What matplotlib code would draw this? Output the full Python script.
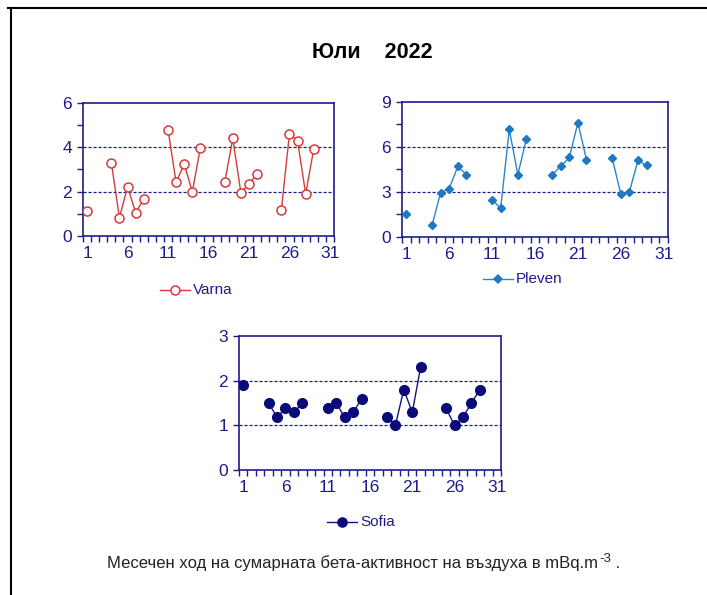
import numpy as np
import matplotlib
matplotlib.use("Agg")
import matplotlib.pyplot as plt
from matplotlib.lines import Line2D
from matplotlib.text import OffsetFrom

plt.rcParams['font.family'] = ['Liberation Sans', 'DejaVu Sans']

nan = np.nan
days = list(range(1, 32))

varna = [1.13, nan, nan, 3.31, 0.82, 2.22, 1.06, 1.65, nan, nan,
         4.80, 2.42, 3.26, 1.99, 3.99, nan, nan, 2.42, 4.40, 1.95,
         2.36, 2.78, nan, nan, 1.18, 4.61, 4.29, 1.90, 3.93, nan, nan]

pleven = [1.56, nan, nan, 0.78, 2.96, 3.23, 4.70, 4.16, nan, nan,
          2.47, 1.92, 7.17, 4.16, 6.55, nan, nan, 4.16, 4.70, 5.30,
          7.62, 5.14, nan, nan, 5.26, 2.85, 3.01, 5.10, 4.77, nan, nan]

sofia = [1.90, nan, nan, 1.50, 1.18, 1.38, 1.29, 1.50, nan, nan,
         1.38, 1.50, 1.18, 1.29, 1.59, nan, nan, 1.18, 1.00, 1.80,
         1.29, 2.31, nan, nan, 1.38, 1.00, 1.18, 1.50, 1.80, nan, nan]

x_labels = [1, 6, 11, 16, 21, 26, 31]

title = "Юли    2022"
caption = "Месечен ход на сумарната бета-активност на въздуха в mBq.m"
caption_sup = "-3"

W, H = 707, 595
NAVY = "#1c1c8a"
fig = plt.figure(figsize=(W / 100, H / 100), dpi=100)
fig.patch.set_facecolor("white")


def px_axes(left, top, right, bottom):
    return fig.add_axes([left / W, 1 - bottom / H, (right - left) / W, (bottom - top) / H])


def style_axes(ax, ymax, ystep, grid_vals):
    ax.set_xlim(0.5, 31.5)
    ax.set_ylim(0, ymax)
    for s in ax.spines.values():
        s.set_color(NAVY)
        s.set_linewidth(1.2)
    ax.set_xticks(x_labels)
    ax.set_xticklabels([str(v) for v in x_labels])
    ax.set_xticks(np.arange(0.5, 31.6, 1.0), minor=True)
    ax.tick_params(axis='x', which='major', length=0, pad=7, labelsize=12.5, labelcolor=NAVY)
    ax.tick_params(axis='x', which='minor', length=4, width=1, color=NAVY, direction='out')
    yt = np.arange(0, ymax + 0.01, ystep)
    ax.set_yticks(yt)
    ax.set_yticklabels([f"{v:g}" for v in yt])
    ax.set_yticks(np.arange(0, ymax + 0.01, ystep / 2), minor=True)
    ax.tick_params(axis='y', which='major', length=4, width=1, color=NAVY, pad=4,
                   labelsize=12.5, labelcolor=NAVY)
    ax.tick_params(axis='y', which='minor', length=4, width=1, color=NAVY)
    for g in grid_vals:
        ax.axhline(g, color=NAVY, lw=0.9, ls=(0, (2.5, 1.5)), zorder=1)


# Varna
ax1 = px_axes(83, 103, 334, 236)
style_axes(ax1, 6, 2, [2, 4])
ax1.plot(days, varna, color="#d43c3c", lw=1.0, marker='o', ms=6.5,
         mfc='white', mec="#d43c3c", mew=1.1, zorder=3)

# Pleven
ax2 = px_axes(402, 102, 668, 237)
style_axes(ax2, 9, 3, [3, 6])
ax2.plot(days, pleven, color="#2a86c8", lw=1.0, marker='D', ms=4.5,
         mfc="#1f78c0", mec="#1f78c0", zorder=3)

# Sofia
ax3 = px_axes(239, 336, 501, 470)
style_axes(ax3, 3, 1, [1, 2])
ax3.yaxis.set_minor_locator(matplotlib.ticker.NullLocator())
ax3.plot(days, sofia, color="#15157a", lw=1.0, marker='o', ms=7,
         mfc="#0a0a78", mec="#0a0a78", zorder=3)


def legend_entry(x0, y, label, **kw):
    xs = np.array([x0, x0 + 30]) / W
    ys = np.array([1 - y / H] * 2)
    fig.add_artist(Line2D(xs, ys, lw=1.0, color=kw['color'], transform=fig.transFigure))
    fig.add_artist(Line2D([(x0 + 15) / W], [1 - y / H], marker=kw['marker'], ms=kw['ms'],
                          mfc=kw['mfc'], mec=kw['mec'], mew=1.1, color=kw['color'],
                          transform=fig.transFigure))
    fig.text((x0 + 33) / W, 1 - y / H, label, ha='left', va='center',
             fontsize=11, color=NAVY)


legend_entry(160, 290, "Varna", color="#d43c3c", marker='o', ms=6.5, mfc='white', mec="#d43c3c")
legend_entry(483, 279, "Pleven", color="#2a86c8", marker='D', ms=4.5, mfc="#1f78c0", mec="#1f78c0")
legend_entry(327, 522, "Sofia", color="#15157a", marker='o', ms=6.5, mfc="#0a0a78", mec="#0a0a78")

fig.text(372 / W, 1 - 53 / H, title, ha='center', va='center', fontsize=15.5,
         fontweight='bold', color='black')

# caption with a raised exponent following the unit
cap = fig.text(107 / W, 1 - 563 / H, caption, ha='left', va='baseline', fontsize=12,
               color='#222222')
cap.set_y(1 - 568 / H)
sup = fig.text(0, 0, caption_sup, fontsize=9.5, color='#222222', ha='left', va='baseline',
               transform=None)
dot = fig.text(0, 0, " .", fontsize=12, color='#222222', ha='left', va='baseline')
fig.canvas.draw()
r = fig.canvas.get_renderer()
bb = cap.get_window_extent(r)
sup.set_transform(fig.dpi_scale_trans)
sup.set_position(((bb.x1 + 1) / 100, (1 - 568 / H) * H / 100 + 0.06))
fig.canvas.draw()
bs = sup.get_window_extent(r)
dot.set_transform(fig.dpi_scale_trans)
dot.set_position(((bs.x1) / 100, (1 - 568 / H) * H / 100))

# outer frame: top and left edges
fig.add_artist(Line2D([8 / W, 1], [1 - 8 / H, 1 - 8 / H], color='black', lw=1.5,
                      transform=fig.transFigure))
fig.add_artist(Line2D([11 / W, 11 / W], [0, 1 - 8 / H], color='black', lw=1.5,
                      transform=fig.transFigure))

fig.savefig("out.png", dpi=100, facecolor='white')
